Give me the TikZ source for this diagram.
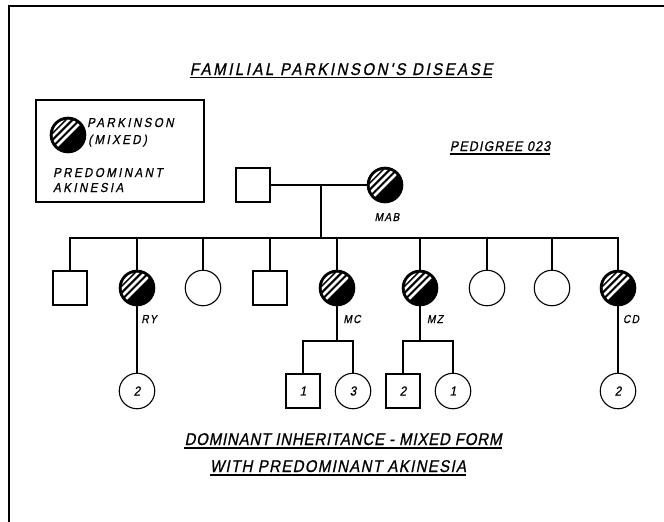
\documentclass[tikz,border=0pt]{standalone}
\usepackage{fontspec}
\newfontfamily\lf[FakeSlant=0.2,FakeStretch=0.88,FakeBold=0.8]{Liberation Sans}
\tikzset{
  ln/.style={line width=1.1pt},
  sq/.style={draw, line width=1.1pt, rectangle, minimum size=34pt, inner sep=0pt, font=\lf\fontsize{13}{13}\selectfont},
  ci/.style={draw, line width=1.1pt, circle, minimum size=35.5pt, inner sep=0pt, font=\lf\fontsize{13}{13}\selectfont},
  aff/.style={ci, fill=black, path picture={
     \clip (path picture bounding box.center) circle (15.3pt);
     \foreach \d in {0,5,10,14.3}{
       \draw[white, line width=2.6pt]
         ([shift={({-0.7071*(\d+20)*1pt},{0.7071*(\d-20)*1pt})}]path picture bounding box.center) --
         ([shift={({-0.7071*(\d-20)*1pt},{0.7071*(\d+20)*1pt})}]path picture bounding box.center);
     }}},
  lab/.style={anchor=base, inner sep=0pt, font=\lf\fontsize{11.5}{11.5}\selectfont\addfontfeature{LetterSpace=12}},
  leg/.style={anchor=base west, inner sep=0pt, font=\lf\fontsize{13}{13}\selectfont\addfontfeature{LetterSpace=19}},
  ul/.style={line width=1.5pt}
}
\begin{document}
\begin{tikzpicture}[x=1pt,y=-1pt]
\useasboundingbox (0,0) rectangle (664,522);
% frame
\draw[line width=2pt] (664,6) -- (9,6) -- (9,522);
% title
\node[anchor=base, inner sep=0pt, font=\lf\fontsize{17}{17}\selectfont\addfontfeature{LetterSpace=15}] (title) at (341,75) {FAMILIAL PARKINSON'S DISEASE};
\draw[ul] ([yshift=-2.5pt]title.base west) -- ([yshift=-2.5pt]title.base east);
% legend
\node[draw, line width=1.1pt, minimum width=168pt, minimum height=102pt, inner sep=0pt] (legbox) at (120,151) {};
\node[aff] (legc) at (68,135) {};
\node[leg] (l1) at (87,127) {PARKINSON};
\node[leg] (l2) at (88,144) {(MIXED)};
\node[leg] (l3) at (53,177) {PREDOMINANT};
\node[leg] (l4) at (53,192) {AKINESIA};
% pedigree label
\node[anchor=base, inner sep=0pt, font=\lf\fontsize{14}{14}\selectfont\addfontfeature{LetterSpace=9}] (ped) at (500,151) {PEDIGREE 023};
\draw[line width=1.1pt] ([yshift=-3pt]ped.base west) -- ([yshift=-3pt]ped.base east);
% generation I
\node[sq] (F) at (253,185) {};
\node[aff] (MAB) at (385,185) {};
\node[lab] (labMAB) at (387,221) {MAB};
\coordinate (mar) at (321,185);
\coordinate (sib) at (321,238);
\draw[ln] (F) -- (MAB);
\draw[ln] (mar) -- (sib);
% generation II
\node[sq] (s1) at (70,288) {};
\node[aff] (RY) at (137,288) {};
\node[ci] (s3) at (203,288) {};
\node[sq] (s4) at (270,288) {};
\node[aff] (MC) at (337,288) {};
\node[aff] (MZ) at (420,288) {};
\node[ci] (s7) at (487,288) {};
\node[ci] (s8) at (552,288) {};
\node[aff] (CD) at (618,288) {};
\draw[ln] (s1.north) |- (sib) -| (CD.north);
\foreach \n in {RY,s3,s4,MC,MZ,s7,s8}{
  \draw[ln] (\n.north) -- (\n.north |- sib);
}
\node[lab] (labRY) at (149,323) {RY};
\node[lab] (labMC) at (352,323) {MC};
\node[lab] (labMZ) at (435,323) {MZ};
\node[lab] (labCD) at (631,323) {CD};
% generation III
\node[ci] (ry1) at (137,391) {2};
\node[sq] (mc1) at (303,391) {1};
\node[ci] (mc2) at (353,391) {3};
\node[sq] (mz1) at (403,391) {2};
\node[ci] (mz2) at (453,391) {1};
\node[ci] (cd1) at (618,391) {2};
\coordinate (mcj) at (337,341);
\coordinate (mzj) at (420,341);
\draw[ln] (RY) -- (ry1);
\draw[ln] (CD) -- (cd1);
\draw[ln] (MC) -- (mcj);
\draw[ln] (MZ) -- (mzj);
\draw[ln] (mc1.north) |- (mcj) -| (mc2.north);
\draw[ln] (mz1.north) |- (mzj) -| (mz2.north);
% bottom caption
\node[anchor=base, inner sep=0pt, font=\lf\fontsize{17}{17}\selectfont\addfontfeature{LetterSpace=5}] (cap1) at (343,445) {DOMINANT INHERITANCE - MIXED FORM};
\draw[ul] ([yshift=-3pt]cap1.base west) -- ([yshift=-3pt]cap1.base east);
\node[anchor=base, inner sep=0pt, font=\lf\fontsize{17}{17}\selectfont\addfontfeature{LetterSpace=8}] (cap2) at (338,472) {WITH PREDOMINANT AKINESIA};
\draw[ul] ([yshift=-3pt]cap2.base west) -- ([yshift=-3pt]cap2.base east);
\end{tikzpicture}
\end{document}
